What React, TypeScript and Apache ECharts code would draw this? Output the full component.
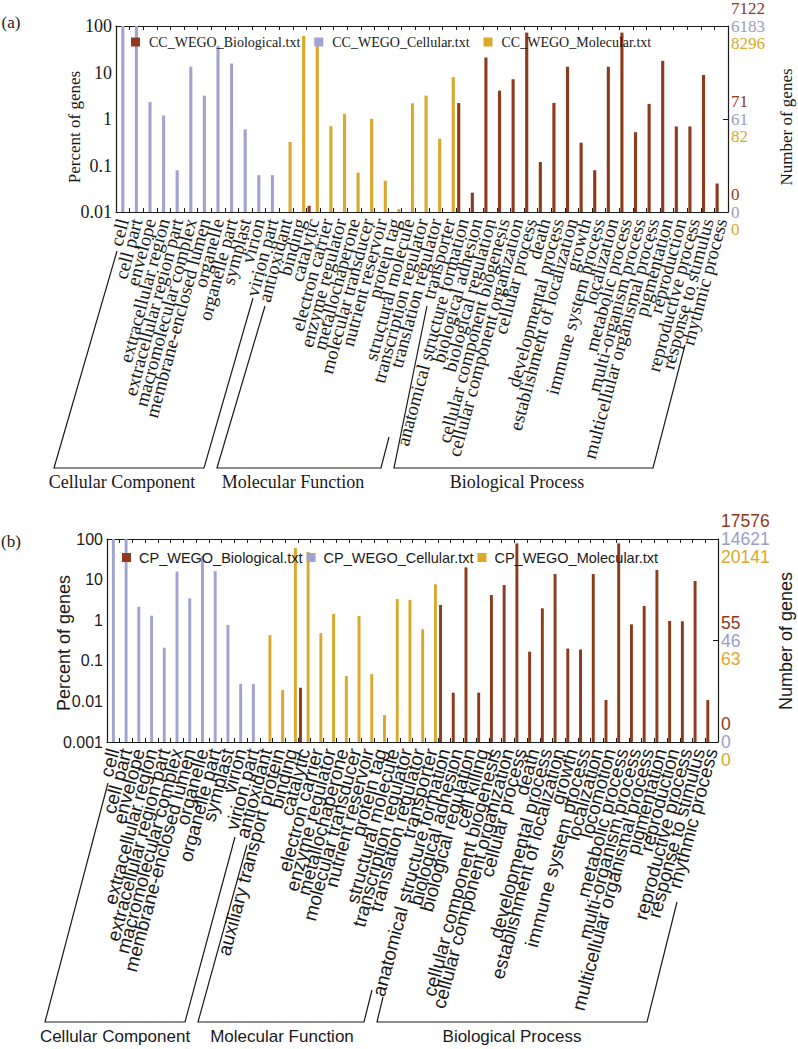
import React, { useEffect, useRef } from 'react';
import * as echarts from 'echarts';

// ---------- categories ----------
const ccCats = ['cell', 'cell part', 'envelope', 'extracellular region', 'extracellular region part', 'macromolecular complex', 'membrane-enclosed lumen', 'organelle', 'organelle part', 'symplast', 'virion', 'virion part'];
const mfCatsA = ['antioxidant', 'binding', 'catalytic', 'electron carrier', 'enzyme regulator', 'metallochaperone', 'molecular transducer', 'nutrient reservoir', 'protein tag', 'structural molecule', 'transcription regulator', 'translation regulator', 'transporter'];
const bpCatsA = ['anatomical structure formation', 'biological adhesion', 'biological regulation', 'cellular component biogenesis', 'cellular component organization', 'cellular process', 'death', 'developmental process', 'establishment of localization', 'growth', 'immune system process', 'localization', 'metabolic process', 'multi-organism process', 'multicellular organismal process', 'pigmentation', 'reproduction', 'reproductive process', 'response to stimulus', 'rhythmic process'];
const mfCatsB = ['antioxidant', 'auxiliary transport protein', 'binding', 'catalytic', 'electron carrier', 'enzyme regulator', 'metallochaperone', 'molecular transducer', 'nutrient reservoir', 'protein tag', 'structural molecule', 'transcription regulator', 'translation regulator', 'transporter'];
const bpCatsB = ['anatomical structure formation', 'biological adhesion', 'biological regulation', 'cell killing', 'cellular component biogenesis', 'cellular component organization', 'cellular process', 'death', 'developmental process', 'establishment of localization', 'growth', 'immune system process', 'localization', 'locomotion', 'metabolic process', 'multi-organism process', 'multicellular organismal process', 'pigmentation', 'reproduction', 'reproductive process', 'response to stimulus', 'rhythmic process'];

// ---------- percent of genes, panel (a) ----------
const cellularA = [100, 100, 2.3, 1.19, 0.079, 13.3, 3.18, 37.5, 15.6, 0.6, 0.062, 0.062];
const molecularA = [0.32, 61, 49, 0.7, 1.29, 0.07, 1.01, 0.047, 0.0116, 2.18, 3.18, 0.377, 7.96];
const biologicalInMfA = [null, null, 0.0136, null, null, null, null, null, null, null, null, null, null];
const biologicalA = [2.2, 0.026, 21, 4.07, 7.2, 72, 0.119, 2.22, 13.3, 0.31, 0.079, 13.3, 72, 0.52, 2.11, 17.8, 0.69, 0.69, 8.8, 0.041];

// ---------- percent of genes, panel (b) ----------
const cellularB = [100, 100, 2.15, 1.29, 0.21, 15.7, 3.46, 38, 16.2, 0.76, 0.027, 0.027];
const molecularB = [0.43, 0.019, 60, 48, 0.48, 1.42, 0.042, 1.27, 0.047, 0.0046, 3.33, 3.16, 0.6, 7.66];
const biologicalInMfB = [null, null, null, 0.0217, null, null, null, null, null, null, null, null, null, null];
const biologicalB = [2.37, 0.0164, 20, 0.0164, 4.17, 7.36, 78, 0.168, 1.96, 13.7, 0.2, 0.19, 13.7, 0.0108, 78, 0.79, 2.24, 17.2, 0.955, 0.94, 9.25, 0.0108];

// ---------- axis tick labels ----------
const percentTicksA = ['0.01', '0.1', '1', '10', '100'];
const percentTicksB = ['0.001', '0.01', '0.1', '1', '10', '100'];
const geneBioA = ['0', '71', '7122'];
const geneCelA = ['0', '61', '6183'];
const geneMolA = ['0', '82', '8296'];
const geneBioB = ['0', '55', '17576'];
const geneCelB = ['0', '46', '14621'];
const geneMolB = ['0', '63', '20141'];

const groupNames = ['Cellular Component', 'Molecular Function', 'Biological Process'];
const seriesNamesA = ['CC_WEGO_Biological.txt', 'CC_WEGO_Cellular.txt', 'CC_WEGO_Molecular.txt'];
const seriesNamesB = ['CP_WEGO_Biological.txt', 'CP_WEGO_Cellular.txt', 'CP_WEGO_Molecular.txt'];

const BIO = '#8E3A1C';
const CEL = '#A3A3D2';
const MOL = '#D9A82C';
const INK = '#1a1a1a';
const SERIF = '"Liberation Serif", "DejaVu Serif", serif';
const SANS = '"Liberation Sans", Arial, sans-serif';

const pad = (n: number) => Array(n).fill(null);
const toData = (arr: (number | null)[]) => arr.flatMap((v, i) => (v == null ? [] : [[i, v]]));

const catsA = [...ccCats, ...mfCatsA, ...bpCatsA];
const catsB = [...ccCats, ...mfCatsB, ...bpCatsB];
const bioFullA = [...pad(ccCats.length), ...biologicalInMfA, ...biologicalA];
const celFullA = [...cellularA, ...pad(mfCatsA.length + bpCatsA.length)];
const molFullA = [...pad(ccCats.length), ...molecularA, ...pad(bpCatsA.length)];
const bioFullB = [...pad(ccCats.length), ...biologicalInMfB, ...biologicalB];
const celFullB = [...cellularB, ...pad(mfCatsB.length + bpCatsB.length)];
const molFullB = [...pad(ccCats.length), ...molecularB, ...pad(bpCatsB.length)];

function barRender(slot: number, minVal: number, color: string) {
  return (_params: any, api: any) => {
    const v = api.value(1);
    if (v == null || isNaN(v)) return null;
    const i = api.value(0);
    const top = api.coord([i, v]);
    const base = api.coord([i, minVal]);
    const band = api.coord([1, minVal])[0] - api.coord([0, minVal])[0];
    const w = band * 0.23;
    const cx = top[0] + slot * band * 0.3;
    return {
      type: 'rect',
      shape: { x: cx - w / 2, y: top[1], width: w, height: base[1] - top[1] },
      style: { fill: color },
    };
  };
}

function barSeries(name: string, color: string, arr: (number | null)[], slot: number, axisIdx: number, minVal: number) {
  return {
    type: 'custom',
    name,
    xAxisIndex: axisIdx * 2,
    yAxisIndex: axisIdx * 2,
    itemStyle: { color },
    encode: { x: 0, y: 1 },
    clip: true,
    renderItem: barRender(slot, minVal, color),
    data: toData(arr),
  };
}

function catAxis(grid: number, cats: string[], font: string, size: number, rotate: number) {
  return [
    {
      type: 'category', gridIndex: grid, data: cats, position: 'bottom',
      axisLine: { show: true, lineStyle: { color: INK, width: 1.2 } },
      axisTick: { show: true, inside: true, length: 4, interval: 0, lineStyle: { color: INK } },
      axisLabel: { interval: 0, rotate, margin: 7, color: INK, fontFamily: font, fontSize: size },
      splitLine: { show: false },
    },
    {
      type: 'category', gridIndex: grid, data: cats, position: 'top',
      axisLine: { show: true, lineStyle: { color: INK, width: 1.2 } },
      axisTick: { show: true, inside: true, length: 4, interval: 0, lineStyle: { color: INK } },
      axisLabel: { show: false },
      splitLine: { show: false },
    },
  ];
}

function valueAxes(grid: number, min: number, ticks: string[], font: string, size: number,
  bio: string[], cel: string[], mol: string[], rightSize: number, lh: number) {
  const minExp = Math.round(Math.log10(min));
  return [
    {
      type: 'log', gridIndex: grid, min, max: 100, logBase: 10, position: 'left',
      axisLine: { show: true, lineStyle: { color: INK, width: 1.2 } },
      axisTick: { show: false },
      splitLine: { show: false },
      minorTick: { show: false },
      axisLabel: {
        color: INK, fontFamily: font, fontSize: size, margin: 4,
        showMinLabel: true, showMaxLabel: true,
        formatter: (v: number) => ticks[Math.round(Math.log10(v)) - minExp],
      },
    },
    {
      type: 'value', gridIndex: grid, min: 0, max: 2, interval: 1, position: 'right',
      axisLine: { show: true, lineStyle: { color: INK, width: 1.2 } },
      axisTick: { show: true, inside: true, length: 5, lineStyle: { color: INK } },
      splitLine: { show: false },
      axisLabel: {
        margin: 3, showMinLabel: true, showMaxLabel: true,
        formatter: (v: number) => {
          const i = Math.round(v);
          return `{b|${bio[i]}}\n{c|${cel[i]}}\n{m|${mol[i]}}`;
        },
        rich: {
          b: { color: BIO, fontFamily: font, fontSize: rightSize, lineHeight: lh },
          c: { color: '#9C9CCB', fontFamily: font, fontSize: rightSize, lineHeight: lh },
          m: { color: MOL, fontFamily: font, fontSize: rightSize, lineHeight: lh },
        },
      },
    },
  ];
}

function txt(text: string, x: number, y: number, font: string, size: number, rotation = 0) {
  return {
    type: 'text', x, y, rotation,
    style: { text, fontFamily: font, fontSize: size, fill: INK, align: 'center', verticalAlign: 'middle' },
  };
}

function bracket(points: number[][]) {
  return { type: 'polyline', shape: { points }, style: { stroke: INK, lineWidth: 1.2, fill: null } };
}

export default function App() {
  const ref = useRef<HTMLDivElement>(null);
  useEffect(() => {
    if (!ref.current) return;
    const chart = echarts.init(ref.current, null, { renderer: 'svg' });
    const option: any = {
      animation: false,
      backgroundColor: '#ffffff',
      grid: [
        { left: 116, top: 25, width: 612, height: 187 },
        { left: 107, top: 539, width: 611, height: 203 },
      ],
      legend: [
        {
          data: seriesNamesA, left: 126, top: 30, icon: 'rect', itemWidth: 9, itemHeight: 9, itemGap: 14,
          selectedMode: false, textStyle: { fontFamily: SERIF, fontSize: 14, color: INK, padding: [0, 0, 0, 4] },
        },
        {
          data: seriesNamesB, left: 117, top: 545, icon: 'rect', itemWidth: 9, itemHeight: 9, itemGap: 4,
          selectedMode: false, textStyle: { fontFamily: SANS, fontSize: 14.5, color: INK, padding: [0, 0, 0, 3] },
        },
      ],
      xAxis: [
        ...catAxis(0, catsA, SERIF, 19, 75),
        ...catAxis(1, catsB, SANS, 19, 75),
      ],
      yAxis: [
        ...valueAxes(0, 0.01, percentTicksA, SERIF, 18, geneBioA, geneCelA, geneMolA, 17, 17.5),
        ...valueAxes(1, 0.001, percentTicksB, SANS, 16, geneBioB, geneCelB, geneMolB, 17.5, 18),
      ],
      series: [
        barSeries(seriesNamesA[0], BIO, bioFullA, -1, 0, 0.01),
        barSeries(seriesNamesA[1], CEL, celFullA, 0, 0, 0.01),
        barSeries(seriesNamesA[2], MOL, molFullA, 1, 0, 0.01),
        barSeries(seriesNamesB[0], BIO, bioFullB, -1, 1, 0.001),
        barSeries(seriesNamesB[1], CEL, celFullB, 0, 1, 0.001),
        barSeries(seriesNamesB[2], MOL, molFullB, 1, 1, 0.001),
      ],
      graphic: [
        txt('(a)', 11, 22, SERIF, 17),
        txt('(b)', 11, 541, SERIF, 17),
        txt('Percent of genes', 74, 127, SERIF, 17, Math.PI / 2),
        txt('Number of genes', 786, 127, SERIF, 17, Math.PI / 2),
        txt('Percent of genes', 64, 643, SANS, 18, Math.PI / 2),
        txt('Number of genes', 786, 641, SANS, 18, Math.PI / 2),
        bracket([[117, 251], [54, 468], [204, 468], [253, 298]]),
        bracket([[265, 306], [217, 468], [381, 468], [389, 437]]),
        bracket([[427, 306], [394, 468], [653, 468], [685, 345]]),
        txt(groupNames[0], 122, 482, SERIF, 18),
        txt(groupNames[1], 293, 482, SERIF, 18),
        txt(groupNames[2], 517, 482, SERIF, 18),
        bracket([[108, 783], [45, 1022], [185, 1022], [235, 837]]),
        bracket([[247, 845], [198, 1022], [364, 1022], [372, 990]]),
        bracket([[383, 997], [377, 1022], [647, 1022], [677, 902]]),
        txt(groupNames[0], 115, 1036, SANS, 17),
        txt(groupNames[1], 282, 1036, SANS, 17),
        txt(groupNames[2], 512, 1036, SANS, 17),
      ],
    };
    chart.setOption(option);
    return () => chart.dispose();
  }, []);
  return <div ref={ref} style={{ position: 'absolute', left: 0, top: 0, width: 798, height: 1049 }} />;
}
